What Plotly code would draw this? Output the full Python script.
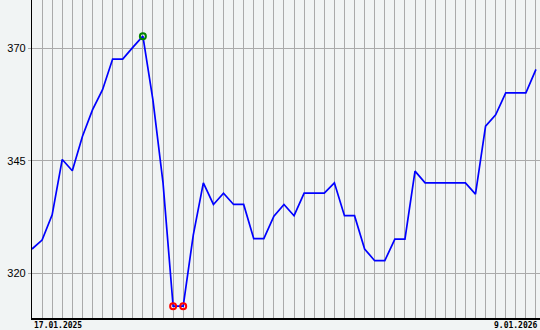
import plotly.graph_objects as go

# weekly index and values
week = list(range(51))
price = [325.4, 327.4, 333.0, 345.3, 342.8, 350.4, 356.3, 360.8, 367.6, 367.6,
         370.2, 372.7, 358.5, 340.1, 312.7, 312.7, 328.5, 340.1, 335.3, 337.8,
         335.3, 335.3, 327.7, 327.7, 332.7, 335.3, 332.8, 337.8, 337.8, 337.8,
         340.1, 332.8, 332.8, 325.4, 322.8, 322.8, 327.6, 327.6, 342.7, 340.1,
         340.1, 340.1, 340.1, 340.1, 337.6, 352.7, 355.2, 360.1, 360.1, 360.1,
         365.3]
start_label = "17.01.2025"
end_label = "9.01.2026"
y_ticks = [320, 345, 370]

bg = "#f1f4f4"
grid = "#aaaaaa"

max_v = max(price)
min_v = min(price)
max_x = [w for w, p in zip(week, price) if p == max_v]
max_y = [p for p in price if p == max_v]
min_x = [w for w, p in zip(week, price) if p == min_v]
min_y = [p for p in price if p == min_v]

fig = go.Figure()
fig.add_trace(go.Scatter(x=week, y=price, mode="lines",
                         line=dict(color="#0000ff", width=1.7), hoverinfo="skip"))
fig.add_trace(go.Scatter(x=max_x, y=max_y, mode="markers",
                         marker=dict(symbol="circle-open", size=6, color="#008000",
                                     line=dict(width=2, color="#008000"))))
fig.add_trace(go.Scatter(x=min_x, y=min_y, mode="markers",
                         marker=dict(symbol="circle-open", size=6, color="#ff0000",
                                     line=dict(width=2, color="#ff0000"))))

fig.update_layout(
    width=540, height=330,
    margin=dict(l=32, r=0, t=0, b=12, pad=0),
    paper_bgcolor=bg, plot_bgcolor=bg,
    showlegend=False,
    xaxis=dict(range=[0, 50.4], tickmode="linear", tick0=0, dtick=1,
               showgrid=True, gridcolor=grid, gridwidth=1,
               showticklabels=False, ticks="", zeroline=False,
               showline=True, linecolor="#000000", linewidth=1.5),
    yaxis=dict(range=[310.07, 380.73], tickmode="array", tickvals=y_ticks,
               showgrid=True, gridcolor=grid, gridwidth=1,
               ticks="outside", ticklen=3, tickcolor=grid,
               tickfont=dict(family="Liberation Sans, Arial", size=11, color="#000000"),
               zeroline=False, showline=True, linecolor="#000000", linewidth=1.2),
    annotations=[
        dict(text="<b>" + start_label + "</b>", x=0, y=0, xref="paper", yref="paper",
             xanchor="left", yanchor="top", showarrow=False, yshift=-1,
             font=dict(family="DejaVu Sans Mono", size=8, color="#000000")),
        dict(text="<b>" + end_label + "</b>", x=1, y=0, xref="paper", yref="paper",
             xanchor="right", yanchor="top", showarrow=False, yshift=-1,
             font=dict(family="DejaVu Sans Mono", size=8, color="#000000")),
    ],
)

fig.write_html("out.html")
